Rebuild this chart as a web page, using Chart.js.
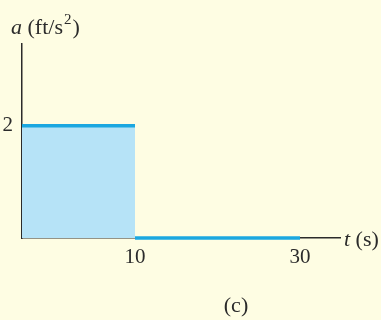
<!DOCTYPE html>
<html>
<head>
<meta charset="utf-8">
<script src="https://cdn.jsdelivr.net/npm/chart.js@4.4.1/dist/chart.umd.min.js"></script>
<style>
  html, body { margin: 0; padding: 0; background: #fefde3; }
  #wrap { width: 381px; height: 320px; position: relative; }
</style>
</head>
<body>
<div id="wrap"><canvas id="myChart"></canvas></div>
<script>
// segment 1: a = 2 ft/s^2 from t = 0 to 10 s
var t_first = [0, 10];
var a_first = [2, 2];
// segment 2: a = 0 from t = 10 to 30 s
var t_second = [10, 30];
var a_second = [0, 0];

var t_ticks = [10, 30];
var a_ticks = [2];

// the drawing is not to scale past t = 10, squeeze that part
var BREAK_T = 10;
var SQUEEZE = 0.73;
function warp(v) {
    return v <= BREAK_T ? v : BREAK_T + (v - BREAK_T) * SQUEEZE;
}

class WarpScale extends Chart.LinearScale {
    getPixelForValue(value) {
        if (value === null || value === undefined) return NaN;
        var lo = warp(this.min), hi = warp(this.max);
        return this.getPixelForDecimal((warp(value) - lo) / (hi - lo));
    }
}
WarpScale.id = 'warp';
WarpScale.defaults = Chart.LinearScale.defaults;
Chart.register(WarpScale);

function toPoints(xs, ys) {
    var pts = [];
    for (var i = 0; i < xs.length; i++) pts.push({ x: xs[i], y: ys[i] });
    return pts;
}

var FONT = "'Liberation Serif', 'DejaVu Serif', serif";
var INK = '#2b2b2b';

var labelsPlugin = {
    id: 'labels',
    afterDraw: function (chart) {
        var ctx = chart.ctx;
        ctx.save();
        ctx.fillStyle = INK;
        ctx.textBaseline = 'alphabetic';
        ctx.textAlign = 'left';

        // y axis title: a (ft/s^2)
        var x = 11, y = 34;
        ctx.font = 'italic 22px ' + FONT;
        ctx.fillText('a', x, y);
        x += ctx.measureText('a').width;
        ctx.font = '22px ' + FONT;
        ctx.fillText(' (ft/s', x, y);
        x += ctx.measureText(' (ft/s').width;
        ctx.font = '15px ' + FONT;
        ctx.fillText('2', x + 1, y - 10);
        x += ctx.measureText('2').width + 2;
        ctx.font = '22px ' + FONT;
        ctx.fillText(')', x, y);

        // x axis title: t (s)
        x = 344; y = 246;
        ctx.font = 'italic 22px ' + FONT;
        ctx.fillText('t', x, y);
        x += ctx.measureText('t').width;
        ctx.font = '22px ' + FONT;
        ctx.fillText(' (s)', x, y);

        // caption
        ctx.textAlign = 'center';
        ctx.fillText('(c)', 236, 312);
        ctx.restore();
    }
};

const ctx = document.getElementById('myChart').getContext('2d');
window.chart = new Chart(ctx, {
    type: 'line',
    data: {
        datasets: [
            {
                data: toPoints(t_first, a_first),
                borderColor: '#1ba7e0',
                backgroundColor: '#b6e3f7',
                borderWidth: 3.5,
                fill: 'origin',
                pointRadius: 0,
                tension: 0
            },
            {
                data: toPoints(t_second, a_second),
                borderColor: '#1ba7e0',
                borderWidth: 3.5,
                fill: false,
                clip: false,
                pointRadius: 0,
                tension: 0
            }
        ]
    },
    options: {
        responsive: true,
        maintainAspectRatio: false,
        animation: false,
        layout: { padding: { top: 44, right: 41, left: 0, bottom: 0 } },
        plugins: {
            legend: { display: false },
            tooltip: { enabled: false }
        },
        scales: {
            x: {
                type: 'warp',
                min: 0,
                max: 34.85,
                grid: { display: false, drawTicks: false },
                border: { display: true, color: INK, width: 1.5 },
                ticks: {
                    padding: 7,
                    color: INK,
                    font: { family: FONT, size: 21 },
                    maxRotation: 0
                },
                afterBuildTicks: function (scale) {
                    scale.ticks = t_ticks.map(function (v) { return { value: v }; });
                },
                afterFit: function (scale) { scale.height = 82; }
            },
            y: {
                type: 'linear',
                min: 0,
                max: 3.46,
                grid: { display: false, drawTicks: false },
                border: { display: true, color: INK, width: 1.5 },
                ticks: {
                    padding: 9,
                    color: INK,
                    font: { family: FONT, size: 21 }
                },
                afterBuildTicks: function (scale) {
                    scale.ticks = a_ticks.map(function (v) { return { value: v }; });
                },
                afterFit: function (scale) { scale.width = 22; }
            }
        }
    },
    plugins: [labelsPlugin]
});
</script>
</body>
</html>
